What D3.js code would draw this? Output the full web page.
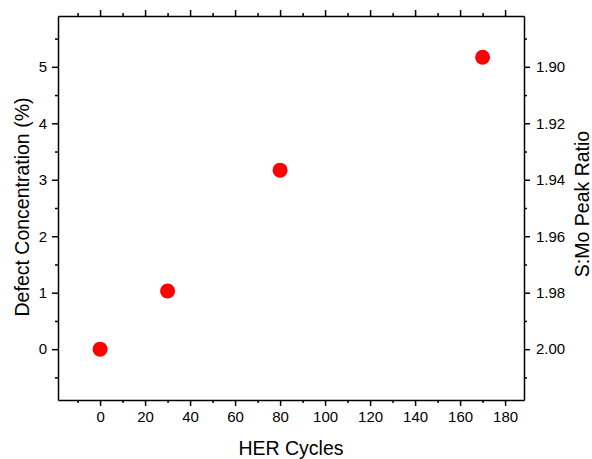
<!DOCTYPE html>
<html lang="en">
<head>
    <meta charset="UTF-8">
    <title>Defect Concentration vs HER Cycles</title>
    <style>
        body { margin: 0; background: #fff; }
        svg { display: block; font-family: "Liberation Sans", Arial, sans-serif; }
        .axis path, .axis line { stroke: #000; stroke-width: 1.5px; }
        .axis text { font-size: 15px; fill: #000; }
        .title { font-size: 19.5px; fill: #000; }
    </style>
</head>
<body>
    <svg id="chart" width="592" height="459"></svg>

    <script src="https://d3js.org/d3.v7.min.js"></script>
    <script>
        // dados
        const cycles = [0, 30, 80, 170];
        const defects = [0, 1.03, 3.17, 5.17];
        const xTicks = [0, 20, 40, 60, 80, 100, 120, 140, 160, 180];
        const yTicks = [0, 1, 2, 3, 4, 5];
        const ratioTicks = [1.90, 1.92, 1.94, 1.96, 1.98, 2.00];

        const svg = d3.select("#chart");
        const margin = { left: 58, right: 68, top: 16, bottom: 59 };
        const width = +svg.attr("width") - margin.left - margin.right;
        const height = +svg.attr("height") - margin.top - margin.bottom;

        const x = d3.scaleLinear().domain([-18.7, 188.4]).range([0, width]);
        const y = d3.scaleLinear().domain([-0.9, 5.9]).range([height, 0]);
        // S:Mo = 2 - 0.02 * defeito
        const yRight = d3.scaleLinear().domain([2.018, 1.882]).range([height, 0]);

        const g = svg.append("g").attr("transform", `translate(${margin.left},${margin.top})`);

        const xMinor = d3.range(-10, 190, 20);
        const yMinor = d3.range(-0.5, 6, 1);
        const rMinor = d3.range(1.89, 2.02, 0.02);

        function minorTicks(sel, axis, vals) {
            sel.append("g").call(axis.tickValues(vals).tickSize(3).tickFormat(""))
                .call(s => s.select(".domain").remove());
        }

        // eixo de baixo
        const bottomAxis = g.append("g").attr("class", "axis").attr("transform", `translate(0,${height})`);
        bottomAxis.call(d3.axisBottom(x).tickValues(xTicks).tickSize(6).tickPadding(5).tickSizeOuter(0));
        minorTicks(bottomAxis, d3.axisBottom(x), xMinor);

        // eixo de cima
        const topAxis = g.append("g").attr("class", "axis");
        topAxis.call(d3.axisTop(x).tickValues(xTicks).tickSize(6).tickFormat("").tickSizeOuter(0));
        minorTicks(topAxis, d3.axisTop(x), xMinor);

        // eixo esquerdo
        const leftAxis = g.append("g").attr("class", "axis");
        leftAxis.call(d3.axisLeft(y).tickValues(yTicks).tickSize(6).tickPadding(5)
            .tickFormat(d3.format("d")).tickSizeOuter(0));
        minorTicks(leftAxis, d3.axisLeft(y), yMinor);

        // eixo direito
        const rightAxis = g.append("g").attr("class", "axis").attr("transform", `translate(${width},0)`);
        rightAxis.call(d3.axisRight(yRight).tickValues(ratioTicks).tickSize(6).tickPadding(6)
            .tickFormat(d3.format(".2f")).tickSizeOuter(0));
        minorTicks(rightAxis, d3.axisRight(yRight), rMinor);

        g.selectAll(".axis .tick text").style("font-size", "15px");

        // pontos
        g.selectAll(".dot")
            .data(cycles.map((c, i) => ({ c, v: defects[i] })))
            .enter().append("circle")
            .attr("class", "dot")
            .attr("cx", d => x(d.c))
            .attr("cy", d => y(d.v))
            .attr("r", 7.5)
            .attr("fill", "#ff0000");

        // titulos
        svg.append("text").attr("class", "title")
            .attr("x", margin.left + width / 2).attr("y", 455)
            .attr("text-anchor", "middle").text("HER Cycles");

        svg.append("text").attr("class", "title")
            .attr("transform", `translate(28.5,${margin.top + height / 2 - 1}) rotate(-90)`)
            .attr("text-anchor", "middle").text("Defect Concentration (%)");

        svg.append("text").attr("class", "title")
            .attr("transform", `translate(589,${margin.top + height / 2 - 4}) rotate(-90)`)
            .attr("text-anchor", "middle").text("S:Mo Peak Ratio");
    </script>
</body>
</html>
